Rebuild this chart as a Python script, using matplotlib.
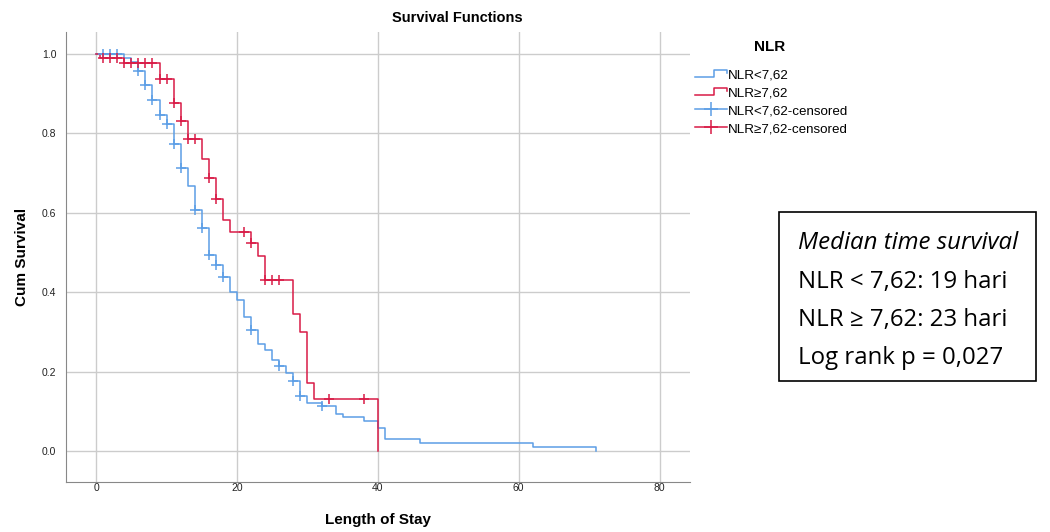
import matplotlib
matplotlib.use("Agg")
import matplotlib.pyplot as plt
from matplotlib.lines import Line2D
from matplotlib.legend_handler import HandlerBase

plt.rcParams['font.family'] = ['Liberation Sans', 'DejaVu Sans']

# Kaplan-Meier steps (time, survival after the step)
low_t = [0, 4, 5, 6, 7, 8, 9, 10, 11, 12, 13, 14, 15, 16, 17, 18, 19, 20, 21, 22,
         23, 24, 25, 26, 27, 28, 29, 30, 32, 34, 35, 38, 40, 41, 46, 62, 71]
low_s = [1.0, 0.989, 0.979, 0.957, 0.922, 0.884, 0.846, 0.822, 0.772, 0.712, 0.666,
         0.607, 0.561, 0.494, 0.468, 0.437, 0.401, 0.380, 0.338, 0.305, 0.270, 0.254,
         0.229, 0.214, 0.197, 0.175, 0.139, 0.122, 0.113, 0.092, 0.085, 0.075, 0.057,
         0.029, 0.019, 0.0095, 0.0]
low_cens_t = [1, 2, 3, 6, 7, 8, 9, 10, 11, 12, 14, 15, 16, 17, 18, 22, 26, 28, 29, 32]
low_cens_s = [1.0, 1.0, 1.0, 0.957, 0.922, 0.884, 0.846, 0.822, 0.772, 0.712, 0.607,
              0.561, 0.494, 0.468, 0.437, 0.305, 0.214, 0.175, 0.139, 0.113]

high_t = [0, 0.5, 4, 9, 11, 12, 13, 15, 16, 17, 18, 19, 22, 23, 24, 28, 29, 30, 31, 40]
high_s = [1.0, 0.989, 0.976, 0.936, 0.876, 0.831, 0.785, 0.736, 0.687, 0.634, 0.582,
          0.552, 0.523, 0.491, 0.431, 0.345, 0.300, 0.172, 0.130, 0.0]
high_cens_t = [1, 2, 3, 4, 5, 6, 7, 8, 9, 10, 11, 12, 13, 14, 16, 17, 21, 22, 24, 25, 26, 33, 38]
high_cens_s = [0.989, 0.989, 0.989, 0.976, 0.976, 0.976, 0.976, 0.976, 0.936, 0.936, 0.876,
               0.831, 0.785, 0.785, 0.687, 0.634, 0.552, 0.523, 0.431, 0.431, 0.431, 0.130, 0.130]

labels = ['NLR<7,62', 'NLR\u22657,62', 'NLR<7,62-censored', 'NLR\u22657,62-censored']
box_lines = ['NLR < 7,62: 19 hari', 'NLR \u2265 7,62: 23 hari', 'Log rank p = 0,027']

blue = '#5c9ee6'
red = '#d81b47'


class StepHandler(HandlerBase):
    # draws the little SPSS style step glyph in the legend
    def create_artists(self, legend, orig_handle, xdescent, ydescent, width, height, fontsize, trans):
        lo = height * 0.1 - ydescent
        hi = height * 0.9 - ydescent
        xs = [-xdescent, -xdescent + width * 0.6, -xdescent + width * 0.6, -xdescent + width, -xdescent + width]
        ys = [lo, lo, hi, hi, hi - (hi - lo) * 0.4]
        ln = Line2D(xs, ys, color=orig_handle.get_color(), lw=1.1, transform=trans)
        return [ln]


fig = plt.figure(figsize=(10.5, 5.32), dpi=100)
ax = fig.add_axes([0.063, 0.094, 0.594, 0.846])

l1, = ax.step(low_t, low_s, where='post', color=blue, lw=1.1)
l2, = ax.step(high_t, high_s, where='post', color=red, lw=1.1)
ax.plot(low_cens_t, low_cens_s, ls='none', marker='+', ms=7.5, mew=1.1, color=blue)
ax.plot(high_cens_t, high_cens_s, ls='none', marker='+', ms=7.5, mew=1.1, color=red)

ax.set_xlim(-4.26, 84.3)
ax.set_ylim(-0.078, 1.055)
ax.set_xticks([0, 20, 40, 60, 80])
ax.set_yticks([0.0, 0.2, 0.4, 0.6, 0.8, 1.0])
ax.set_yticklabels(['0.0', '0.2', '0.4', '0.6', '0.8', '1.0'])
ax.grid(True, color='#cccccc', lw=1)
ax.set_axisbelow(True)
ax.tick_params(length=0, labelsize=7.5, colors='#222222', pad=1)
ax.tick_params(axis='y', pad=7)
for s in ['top', 'right']:
    ax.spines[s].set_visible(False)
for s in ['left', 'bottom']:
    ax.spines[s].set_color('#888888')

ax.set_xlabel('Length of Stay', fontsize=11, fontweight='bold', labelpad=14)
ax.set_ylabel('Cum Survival', fontsize=11, fontweight='bold', labelpad=9)
fig.text(0.436, 0.967, 'Survival Functions', ha='center', va='center', fontsize=10.5, fontweight='bold')

# legend: title drawn separately so the gap matches
cp1 = Line2D([], [], color=blue, lw=1.1, marker='+', ms=10, mew=1.1)
cp2 = Line2D([], [], color=red, lw=1.1, marker='+', ms=10, mew=1.1)
fig.text(0.733, 0.912, 'NLR', ha='center', va='center', fontsize=11, fontweight='bold')
fig.legend([l1, l2, cp1, cp2], labels, loc='upper left', bbox_to_anchor=(0.650, 0.893),
           frameon=False, fontsize=9.6, handlelength=2.4, handletextpad=0.1, numpoints=1,
           labelspacing=0.42, handler_map={l1: StepHandler(), l2: StepHandler()})

# annotation box on the right
fig.text(0.76, 0.543, 'Median time survival', style='italic', fontsize=17.3, family='Open Sans', va='center')
for i, line in enumerate(box_lines):
    fig.text(0.76, 0.470 - i * 0.0715, line, fontsize=17.3, family='Open Sans', va='center')
fig.patches.append(plt.Rectangle((0.742, 0.284), 0.245, 0.318, transform=fig.transFigure,
                                 fill=False, ec='black', lw=1.2))

fig.savefig('out.png', dpi=100)
